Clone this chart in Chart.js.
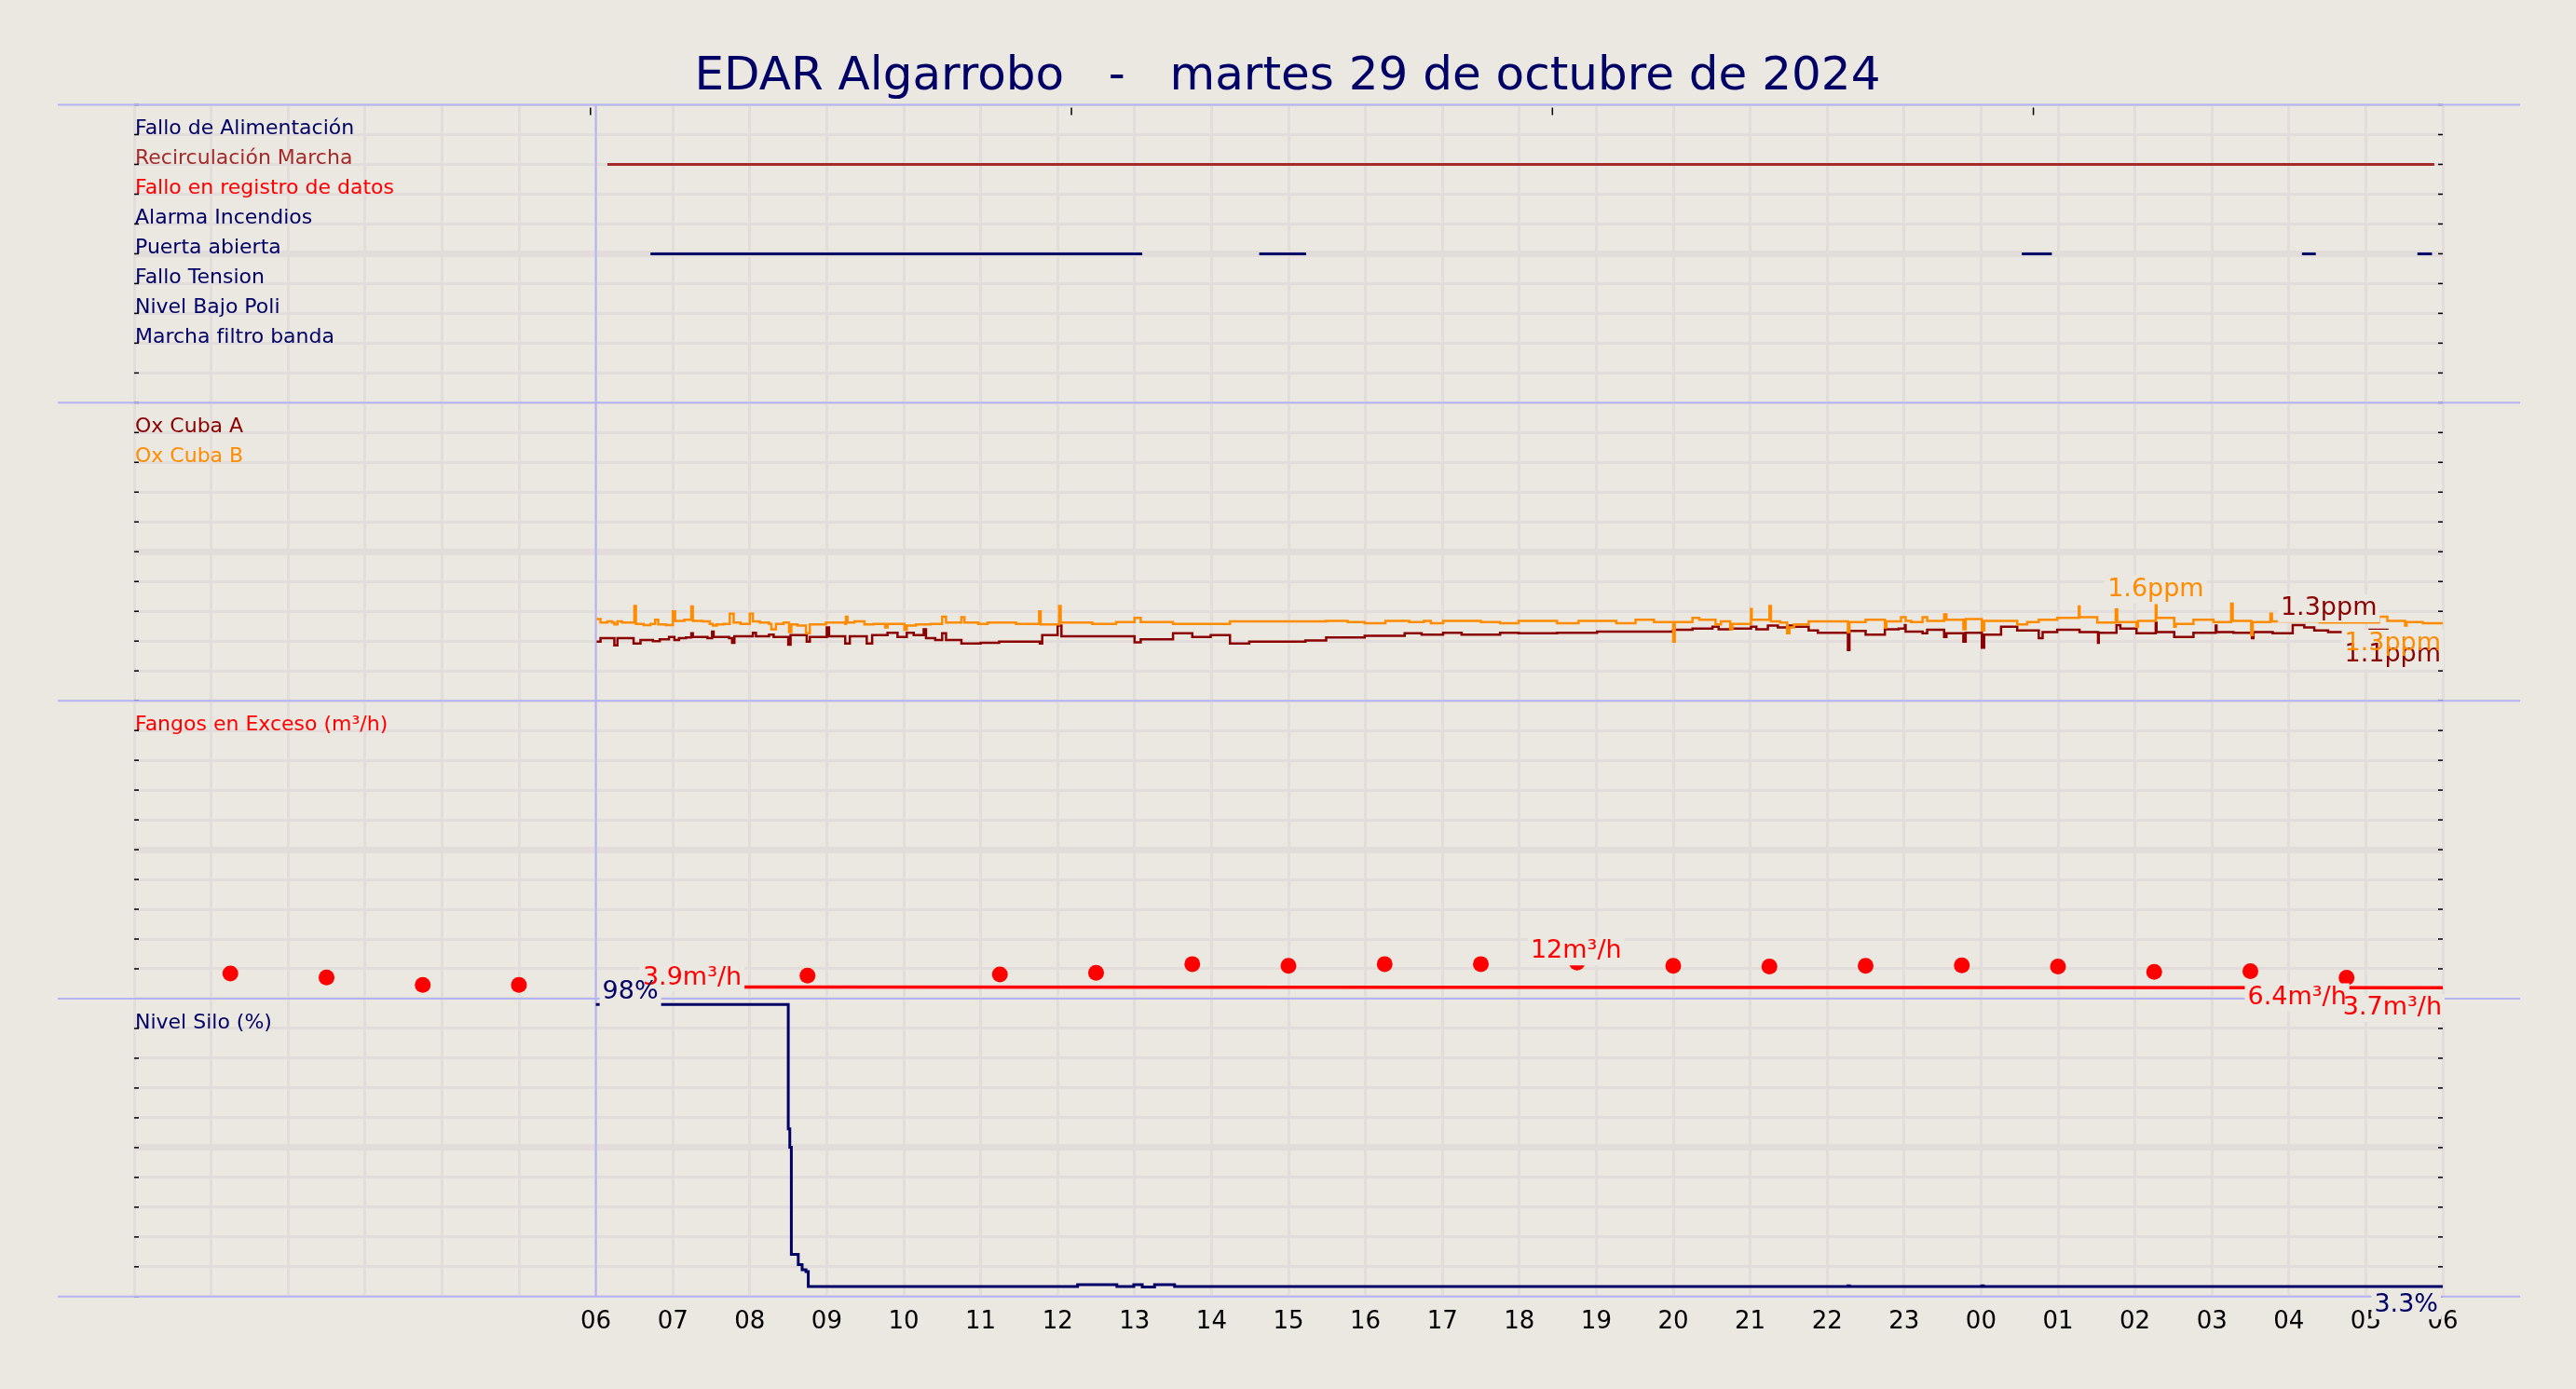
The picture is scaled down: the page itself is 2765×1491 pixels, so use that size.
<!DOCTYPE html>
<html lang="es">
<head>
<meta charset="utf-8">
<title>EDAR Algarrobo</title>
<script src="https://cdn.jsdelivr.net/npm/chart.js@4.4.1/dist/chart.umd.min.js"></script>
<style>
  html, body { margin: 0; background: #ebe7e1; }
  canvas { display: block; }
</style>
</head>
<body>
<canvas id="edarChart" width="2765" height="1491"></canvas>
<script>
// --- datos ---------------------------------------------------------------
const chartTitle = 'EDAR Algarrobo   -   martes 29 de octubre de 2024';

// eje x en horas desde las 00 del día 29 (06 = inicio del día de explotación)
const hourLabels = ['06', '07', '08', '09', '10', '11', '12', '13', '14', '15', '16', '17',
  '18', '19', '20', '21', '22', '23', '00', '01', '02', '03', '04', '05', '06'];
const dayStart = 6;
const topAxisTicks = [5.93, 12.18, 18.43, 24.68];

// panel de señales digitales
const binRows = ['Fallo de Alimentación', 'Recirculación Marcha', 'Fallo en registro de datos',
  'Alarma Incendios', 'Puerta abierta', 'Fallo Tension', 'Nivel Bajo Poli', 'Marcha filtro banda'];
const recirculacionOn = [[6.15, 29.89]];
const puertaAbiertaOn = [[6.71, 13.10], [14.62, 15.23], [24.53, 24.92], [28.17, 28.35], [29.67, 29.86]];

// oxígeno (ppm), [hora, valor]
const oxRows = ['Ox Cuba A', 'Ox Cuba B'];
const oxCubaA = [
  [6.01, 0.99], [6.06, 1.05], [6.24, 0.93], [6.28, 1.05], [6.49, 0.96], [6.58, 1.02], [6.74, 1.00],
  [6.83, 1.03], [6.95, 1.07], [7.02, 1.02], [7.08, 1.05], [7.17, 1.06], [7.24, 1.13], [7.26, 1.07],
  [7.45, 1.05], [7.51, 1.16], [7.53, 1.07], [7.73, 1.05], [7.77, 0.97], [7.80, 1.08], [8.04, 1.14],
  [8.08, 1.08], [8.25, 1.11], [8.31, 1.07], [8.50, 0.94], [8.53, 1.10], [8.74, 0.99], [8.78, 1.07],
  [9.00, 1.23], [9.03, 1.08], [9.24, 0.96], [9.30, 1.08], [9.52, 0.96], [9.59, 1.10], [9.79, 1.14],
  [9.92, 1.07], [10.04, 1.14], [10.13, 1.10], [10.26, 1.20], [10.29, 1.05], [10.41, 1.02],
  [10.50, 1.13], [10.55, 1.02], [10.75, 0.96], [11.00, 0.97], [11.24, 0.99], [11.77, 0.96],
  [11.80, 1.10], [12.00, 1.26], [12.05, 1.08], [13.00, 0.98], [13.08, 1.03], [13.50, 1.13],
  [13.75, 1.07], [13.99, 1.10], [14.24, 0.96], [14.49, 0.99], [15.22, 1.01], [15.49, 1.06],
  [15.99, 1.09], [16.51, 1.13], [16.73, 1.11], [17.01, 1.14], [17.25, 1.11], [17.75, 1.14],
  [17.99, 1.13], [18.49, 1.14], [19.01, 1.16], [20.00, 1.19], [20.25, 1.21], [20.51, 1.24],
  [20.59, 1.20], [20.74, 1.21], [21.01, 1.24], [21.08, 1.20], [21.23, 1.26], [21.36, 1.23],
  [21.51, 1.26], [21.57, 1.24], [21.76, 1.18], [21.88, 1.14], [22.27, 0.85], [22.29, 1.17],
  [22.50, 1.11], [22.75, 1.20], [22.93, 1.21], [23.01, 1.27], [23.02, 1.16], [23.24, 1.13],
  [23.30, 1.19], [23.52, 1.07], [23.55, 1.13], [23.77, 0.99], [23.80, 1.14], [24.01, 0.89],
  [24.04, 1.11], [24.26, 1.24], [24.47, 1.18], [24.75, 1.05], [24.80, 1.15], [24.99, 1.19],
  [25.28, 1.15], [25.52, 0.97], [25.53, 1.14], [25.76, 1.27], [25.81, 1.21], [26.02, 1.13],
  [26.27, 1.31], [26.28, 1.15], [26.51, 1.07], [26.76, 1.14], [27.05, 1.26], [27.06, 1.15],
  [27.28, 1.14], [27.52, 1.05], [27.54, 1.15], [27.79, 1.13], [28.05, 1.27], [28.20, 1.23],
  [28.33, 1.18], [28.51, 1.15], [28.82, 1.13], [29.05, 1.19], [29.28, 1.15], [29.51, 1.17],
  [29.76, 1.07], [29.79, 1.13], [30.00, 1.13]
];
const oxCubaB = [
  [6.01, 1.37], [6.06, 1.31], [6.15, 1.33], [6.21, 1.31], [6.24, 1.28], [6.28, 1.33], [6.34, 1.31],
  [6.50, 1.59], [6.52, 1.29], [6.62, 1.27], [6.71, 1.29], [6.77, 1.36], [6.81, 1.28], [6.91, 1.27],
  [7.00, 1.50], [7.03, 1.34], [7.15, 1.36], [7.24, 1.58], [7.26, 1.34], [7.39, 1.33], [7.48, 1.29],
  [7.52, 1.26], [7.57, 1.28], [7.66, 1.29], [7.74, 1.46], [7.79, 1.31], [7.88, 1.29], [8.00, 1.46],
  [8.04, 1.33], [8.13, 1.31], [8.25, 1.29], [8.28, 1.20], [8.34, 1.29], [8.44, 1.31], [8.51, 1.15],
  [8.54, 1.28], [8.62, 1.26], [8.73, 1.13], [8.78, 1.28], [8.99, 1.31], [9.24, 1.29], [9.25, 1.41],
  [9.27, 1.31], [9.36, 1.33], [9.49, 1.28], [9.61, 1.29], [9.76, 1.23], [9.79, 1.29], [10.01, 1.19],
  [10.04, 1.26], [10.16, 1.28], [10.35, 1.29], [10.50, 1.41], [10.55, 1.31], [10.75, 1.40],
  [10.79, 1.31], [10.97, 1.29], [11.09, 1.31], [11.46, 1.29], [11.76, 1.50], [11.78, 1.28],
  [12.02, 1.59], [12.04, 1.31], [12.45, 1.29], [12.76, 1.32], [13.00, 1.39], [13.08, 1.32],
  [13.50, 1.29], [14.24, 1.33], [15.49, 1.34], [15.77, 1.32], [15.99, 1.30], [16.26, 1.34],
  [16.57, 1.32], [16.76, 1.34], [16.85, 1.30], [17.01, 1.34], [17.50, 1.32], [17.75, 1.30],
  [17.99, 1.34], [18.49, 1.30], [18.77, 1.34], [19.26, 1.30], [19.51, 1.36], [19.75, 1.32],
  [20.00, 0.99], [20.02, 1.32], [20.25, 1.39], [20.34, 1.36], [20.55, 1.28], [20.62, 1.33],
  [20.74, 1.20], [20.77, 1.29], [21.01, 1.54], [21.02, 1.36], [21.25, 1.59], [21.27, 1.33],
  [21.39, 1.31], [21.48, 1.13], [21.51, 1.23], [21.57, 1.28], [21.76, 1.33], [22.27, 1.15],
  [22.29, 1.32], [22.50, 1.36], [22.75, 1.23], [22.77, 1.33], [22.96, 1.40], [23.02, 1.34],
  [23.09, 1.32], [23.24, 1.40], [23.30, 1.34], [23.52, 1.45], [23.55, 1.36], [23.77, 1.20],
  [23.80, 1.37], [24.01, 1.18], [24.04, 1.34], [24.47, 1.28], [24.60, 1.32], [24.75, 1.36],
  [24.99, 1.39], [25.27, 1.58], [25.28, 1.40], [25.51, 1.31], [25.75, 1.53], [25.77, 1.32],
  [26.02, 1.24], [26.04, 1.34], [26.27, 1.60], [26.28, 1.39], [26.51, 1.24], [26.53, 1.29],
  [26.76, 1.36], [27.02, 1.32], [27.25, 1.63], [27.27, 1.34], [27.51, 1.10], [27.53, 1.32],
  [27.76, 1.46], [27.78, 1.33], [28.40, 1.31], [29.17, 1.41], [29.28, 1.34], [29.51, 1.26],
  [29.53, 1.32], [29.74, 1.30], [30.00, 1.30]
];

// fangos en exceso (m³/h)
const fangosRows = ['Fangos en Exceso (m³/h)'];
const fangosHours = [1.25, 2.5, 3.75, 5.0, 6.25, 7.5, 8.75, 10.0, 11.25, 12.5, 13.75, 15.0,
  16.25, 17.5, 18.75, 20.0, 21.25, 22.5, 23.75, 25.0, 26.25, 27.5, 28.75];
const fangosValues = [8.4, 7.1, 4.6, 4.6, null, null, 7.7, null, 8.1, 8.7, 11.6, 11.0,
  11.6, 11.6, 12.1, 11.0, 10.8, 11.0, 11.2, 10.8, 9.0, 9.2, 7.0];
const fangosLine = [[7.92, 3.9], [30.0, 3.7]];

// nivel silo (%)
const siloRows = ['Nivel Silo (%)'];
const nivelSilo = [
  [6.0, 98], [8.50, 56.3], [8.52, 50.1], [8.54, 14.2], [8.63, 10.7], [8.68, 9.0], [8.73, 8.4],
  [8.76, 3.4], [12.26, 4.0], [12.77, 3.4], [12.99, 4.0], [13.10, 3.2], [13.26, 4.0], [13.52, 3.4],
  [22.27, 3.6], [22.29, 3.4], [24.01, 3.6], [24.03, 3.4], [30.0, 3.3]
];

// etiquetas de valores: texto, serie, hora de anclaje
const valueNotes = [
  ['1.6ppm', 'oxB', 26.27],
  ['1.3ppm', 'oxA', 28.05],
  ['1.1ppm', 'oxA', 30],
  ['1.3ppm', 'oxB', 30],
  ['3.9m³/h', 'fanLine', 7.92],
  ['12m³/h', 'fanDots', 18.75],
  ['6.4m³/h', 'fanLine', 27.5],
  ['3.7m³/h', 'fanLine', 30],
  ['98%', 'silo', 6],
  ['3.3%', 'silo', 30]
];

// --- estilo ----------------------------------------------------------------
const NAVY = '#000066', BROWN = '#a52a2a', RED = '#ff0000', DARKRED = '#8b0000', ORANGE = '#ff8c00';
const BG = '#ebe7e1', GRID = '#e2dcda', SEPARATOR = '#b4b4f2';
const FONT = 'DejaVu Sans';
const binColors = [NAVY, BROWN, RED, NAVY, NAVY, NAVY, NAVY, NAVY];

const toPoints = list => list.map(([x, y]) => ({ x, y }));
const fangosDots = fangosHours.map((h, i) => [h, fangosValues[i]]);

function segments(list, level) {
  const out = [];
  list.forEach(([a, b]) => out.push({ x: a, y: level }, { x: b, y: level }, { x: b, y: null }));
  return out;
}

const seriesByKey = {
  oxA: { data: oxCubaA, axis: 'yOx', color: DARKRED },
  oxB: { data: oxCubaB, axis: 'yOx', color: ORANGE },
  fanLine: { data: fangosLine, axis: 'yFan', color: RED },
  fanDots: { data: fangosDots, axis: 'yFan', color: RED },
  silo: { data: nivelSilo, axis: 'ySilo', color: NAVY }
};

function valueAt(list, hour) {
  let v = null;
  for (const [x, y] of list) if (x <= hour + 1e-6 && y !== null) v = y;
  return v;
}

// fila contada desde arriba para las etiquetas internas de cada panel
function rowLabel(names, scale, value, step) {
  const row = scale.options.reverse ? Math.round(value / step) : Math.round((scale.max - value) / step);
  return names[row - 1] || '';
}

function panelAxis(names, max, step, colorFn, reverse) {
  return {
    type: 'linear', position: 'left', stack: 'panels', stackWeight: 1,
    min: 0, max: max, reverse: !!reverse,
    grid: { color: GRID, lineWidth: ctx => ctx.index === 5 ? 7 : 3, drawTicks: false },
    border: { display: false },
    ticks: {
      stepSize: step, autoSkip: false, mirror: true, padding: 1, labelOffset: -6,
      font: { family: FONT, size: 22 },
      color: colorFn,
      callback: function (v) { return rowLabel(names, this, v, step); }
    }
  };
}

const panelDecor = {
  id: 'panelDecor',
  beforeDatasetsDraw(chart) {
    const { ctx, chartArea: a, scales } = chart;
    const line = (x1, y1, x2, y2) => { ctx.beginPath(); ctx.moveTo(x1, y1); ctx.lineTo(x2, y2); ctx.stroke(); };
    ctx.save();
    // marcas interiores a ambos lados
    ctx.strokeStyle = '#000';
    ctx.lineWidth = 1.5;
    ['yBin', 'yOx', 'yFan', 'ySilo'].forEach(id => {
      const s = scales[id];
      s.ticks.forEach((t, i) => {
        const y = s.getPixelForTick(i);
        line(a.left, y, a.left + 5, y);
        line(a.right - 5, y, a.right, y);
      });
    });
    topAxisTicks.forEach(v => {
      const px = scales.x.getPixelForValue(v);
      line(px, a.top + 3, px, a.top + 11);
    });
    // separadores de panel y comienzo del día
    ctx.strokeStyle = SEPARATOR;
    ctx.lineWidth = 2;
    [scales.yBin.top, scales.yOx.top, scales.yFan.top, scales.ySilo.top, scales.ySilo.bottom]
      .forEach(y => line(a.left - 82, y, a.right + 83, y));
    const d = scales.x.getPixelForValue(dayStart);
    line(d, a.top, d, a.bottom);
    ctx.restore();
  },
  afterDatasetsDraw(chart, args, opts) {
    const { ctx, scales } = chart;
    ctx.save();
    ctx.font = '27px "' + FONT + '"';
    ctx.textBaseline = 'alphabetic';
    const items = valueNotes.map(([text, key, hour], i) => {
      const s = seriesByKey[key];
      const p = opts.placement[i];
      const px = scales.x.getPixelForValue(hour) + p.dx;
      const py = scales[s.axis].getPixelForValue(valueAt(s.data, hour)) + p.dy;
      const w = ctx.measureText(text).width;
      const left = p.align === 'left' ? px : p.align === 'right' ? px - w : px - w / 2;
      return { text, left, w, py, color: s.color };
    });
    ctx.fillStyle = BG;
    items.forEach(it => ctx.fillRect(it.left - 3, it.py - 22, it.w + 6, 30));
    ctx.textAlign = 'left';
    items.forEach(it => { ctx.fillStyle = it.color; ctx.fillText(it.text, it.left, it.py); });
    ctx.restore();
  }
};

new Chart(document.getElementById('edarChart'), {
  type: 'line',
  data: {
    datasets: [
      { label: 'Recirculación Marcha', yAxisID: 'yBin', data: segments(recirculacionOn, 2),
        borderColor: BROWN, borderWidth: 3, pointRadius: 0, borderCapStyle: 'butt' },
      { label: 'Puerta abierta', yAxisID: 'yBin', data: segments(puertaAbiertaOn, 5),
        borderColor: NAVY, borderWidth: 3, pointRadius: 0, borderCapStyle: 'butt' },
      { label: 'Ox Cuba B', yAxisID: 'yOx', data: toPoints(oxCubaB), stepped: true,
        borderColor: ORANGE, borderWidth: 2.5, pointRadius: 0 },
      { label: 'Ox Cuba A', yAxisID: 'yOx', data: toPoints(oxCubaA), stepped: true,
        borderColor: DARKRED, borderWidth: 2.5, pointRadius: 0 },
      { label: 'Fangos en Exceso', yAxisID: 'yFan', data: toPoints(fangosLine),
        borderColor: RED, borderWidth: 3.5, pointRadius: 0 },
      { label: 'Fangos en Exceso (puntos)', yAxisID: 'yFan', data: toPoints(fangosDots),
        showLine: false, pointRadius: 8.5, pointBorderWidth: 0, pointBackgroundColor: RED },
      { label: 'Nivel Silo', yAxisID: 'ySilo', data: toPoints(nivelSilo), stepped: true,
        borderColor: NAVY, borderWidth: 3, pointRadius: 0 }
    ]
  },
  options: {
    responsive: false,
    devicePixelRatio: 1,
    animation: false,
    events: [],
    layout: { padding: { left: 142, right: 143, top: 0, bottom: 44 } },
    plugins: {
      legend: { display: false },
      tooltip: { enabled: false },
      title: {
        display: true, text: chartTitle, color: NAVY,
        font: { family: FONT, size: 50, weight: 'normal', lineHeight: 1.05 },
        padding: { top: 57, bottom: 3 }
      },
      panelDecor: {
        placement: [
          { align: 'center', dx: 0, dy: -10 },
          { align: 'left', dx: -13, dy: -11 },
          { align: 'right', dx: -2, dy: 30 },
          { align: 'right', dx: -2, dy: 29 },
          { align: 'right', dx: -2, dy: -3 },
          { align: 'center', dx: -1, dy: -5 },
          { align: 'left', dx: -3, dy: 18 },
          { align: 'right', dx: -1, dy: 29 },
          { align: 'left', dx: 7, dy: -6 },
          { align: 'right', dx: -5, dy: 27 }
        ]
      }
    },
    scales: {
      x: {
        type: 'linear', position: 'bottom', min: 0, max: 30,
        grid: { color: GRID, lineWidth: 3, drawTicks: false },
        border: { display: false },
        ticks: {
          stepSize: 1, autoSkip: false, maxRotation: 0, padding: 12, color: '#000',
          font: { family: FONT, size: 26 },
          callback: v => v >= dayStart ? hourLabels[v - dayStart] : ''
        }
      },
      // los ejes apilados se colocan de abajo hacia arriba en orden inverso
      ySilo: panelAxis(siloRows, 100, 10, () => NAVY),
      yFan: panelAxis(fangosRows, 100, 10, () => RED),
      yOx: panelAxis(oxRows, 5, 0.5, ctx => ctx.tick.value > 4.25 ? DARKRED : ORANGE),
      yBin: panelAxis(binRows, 10, 1, ctx => binColors[ctx.tick.value - 1] || NAVY, true)
    }
  },
  plugins: [panelDecor]
});
</script>
</body>
</html>
